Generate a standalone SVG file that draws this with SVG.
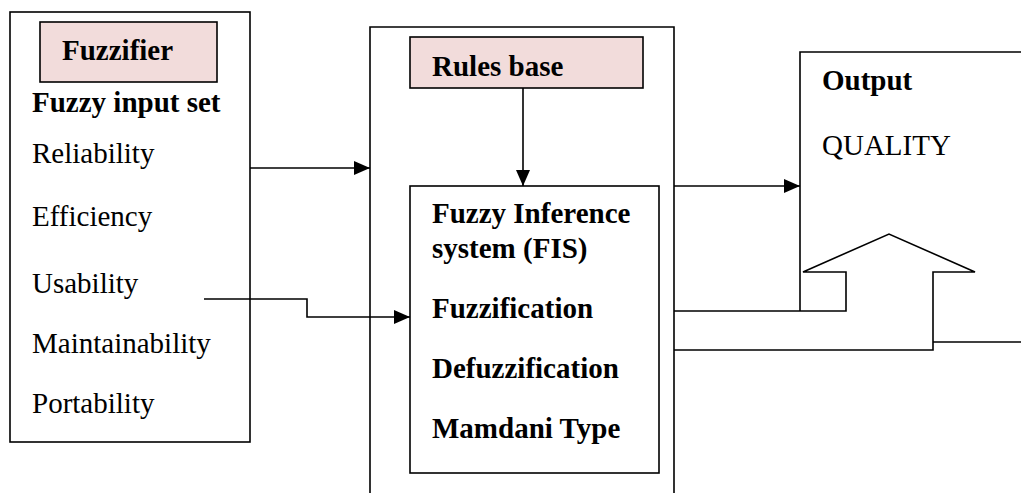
<svg xmlns="http://www.w3.org/2000/svg" width="1021" height="493" viewBox="0 0 1021 493">
<defs>
<style>
.box{fill:#fff;stroke:#000;stroke-width:1.6}
.pink{fill:#F2DCDB;stroke:#000;stroke-width:1.6}
.ln{fill:none;stroke:#000;stroke-width:1.6}
text{font-family:"Liberation Serif","Times New Roman",serif;font-size:29px;fill:#000}
.b{font-weight:bold}
</style>
<marker id="ah" markerWidth="16" markerHeight="14" refX="16" refY="7" orient="auto" markerUnits="userSpaceOnUse">
<path d="M0,0 L16,7 L0,14 z" fill="#000"/>
</marker>
</defs>
<rect width="1021" height="493" fill="#fff"/>

<g id="fuzzifier-node">
<rect class="box" x="10" y="12" width="240" height="430"/>
<rect class="pink" x="40" y="22" width="177" height="60"/>
<text class="b" x="62" y="60">Fuzzifier</text>
<text class="b" x="32" y="112">Fuzzy input set</text>
<text x="32" y="163">Reliability</text>
<text x="32" y="226">Efficiency</text>
<text x="32" y="293">Usability</text>
<text x="32" y="353">Maintainability</text>
<text x="32" y="413">Portability</text>
</g>

<g id="inference-node">
<path class="ln" d="M370,493 V27 H674 V493"/>
<rect class="pink" x="410" y="37" width="233" height="51"/>
<text class="b" x="432" y="76">Rules base</text>
</g>

<g id="fis-node">
<rect class="box" x="410" y="186" width="249" height="287"/>
<text class="b" x="432" y="223">Fuzzy Inference</text>
<text class="b" x="432" y="258">system (FIS)</text>
<text class="b" x="432" y="318">Fuzzification</text>
<text class="b" x="432" y="378">Defuzzification</text>
<text class="b" x="432" y="438">Mamdani Type</text>
</g>

<g id="output-node">
<path class="ln" d="M1021,52 H800 V311"/>
<text class="b" x="822" y="90">Output</text>
<text x="822" y="155">QUALITY</text>
</g>

<g id="connectors">
<path class="ln" d="M250,168 H370" marker-end="url(#ah)"/>
<path class="ln" d="M204,299 H307 V317 H410" marker-end="url(#ah)"/>
<path class="ln" d="M523,88 V186" marker-end="url(#ah)"/>
<path class="ln" d="M674,186 H800" marker-end="url(#ah)"/>
<path class="ln" d="M674,311 H846 V272 H803 L889,234 L975,272 H933 V350 H674"/>
<path class="ln" d="M933,342 H1021"/>
</g>
</svg>
